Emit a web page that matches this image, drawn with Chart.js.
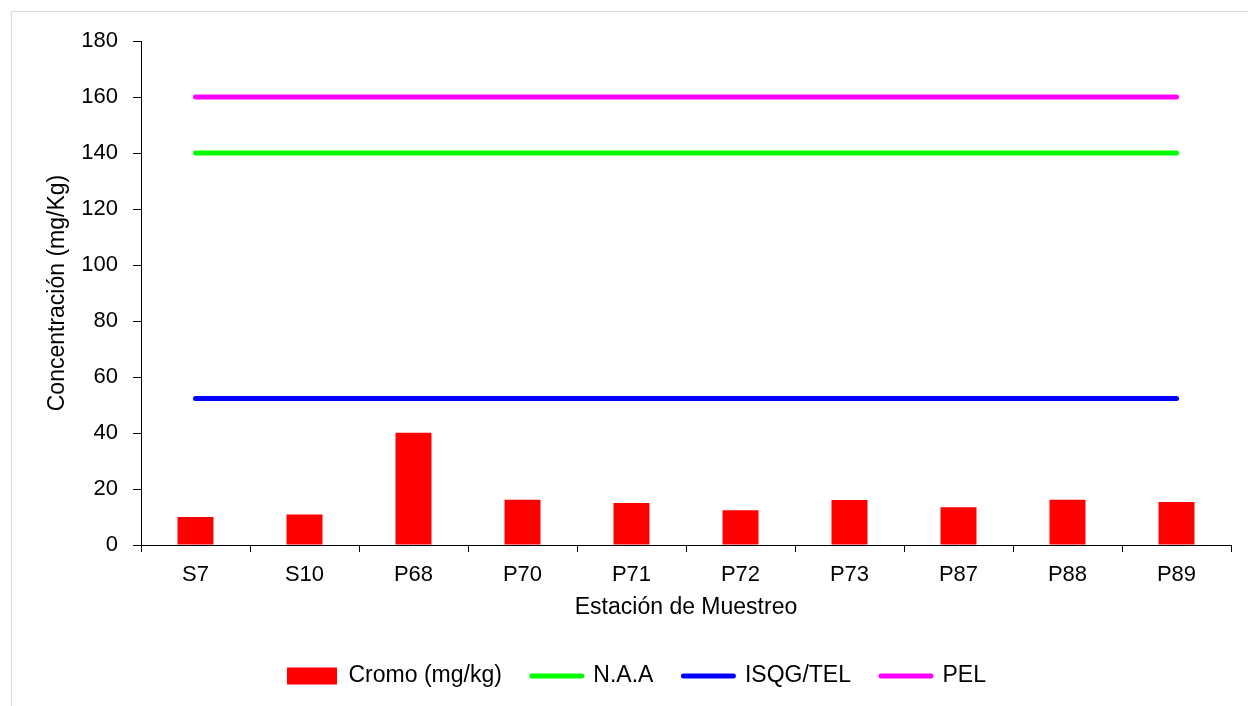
<!DOCTYPE html>
<html>
<head>
<meta charset="utf-8">
<script src="https://cdn.jsdelivr.net/npm/chart.js@4/dist/chart.umd.min.js"></script>
<style>
  html, body { margin: 0; padding: 0; background: #fff; overflow: hidden; }
  #frame { position: absolute; left: 11px; top: 11px; width: 1400px; height: 900px;
           border: 1px solid #d9d9d9; box-sizing: border-box; }
  #wrap { position: absolute; left: 0; top: 0; width: 1248px; height: 706px; }
</style>
</head>
<body>
<div id="frame"></div>
<div id="wrap"><canvas id="c" width="1248" height="706"></canvas></div>
<script>
// Sampling stations along the x axis
const estaciones = ['S7', 'S10', 'P68', 'P70', 'P71', 'P72', 'P73', 'P87', 'P88', 'P89'];

// Chromium concentration per station (mg/kg)
const cromo = [10.0, 10.9, 40.1, 16.2, 15.0, 12.4, 16.1, 13.5, 16.2, 15.4];

// Reference guideline levels (mg/kg)
const naa     = [140, 140, 140, 140, 140, 140, 140, 140, 140, 140];
const isqgTel = [52.3, 52.3, 52.3, 52.3, 52.3, 52.3, 52.3, 52.3, 52.3, 52.3];
const pel     = [160, 160, 160, 160, 160, 160, 160, 160, 160, 160];

// Y axis range and step
const yMin = 0, yMax = 180, yStep = 20;

const FONT = "'Liberation Sans', Arial, sans-serif";
const LEGEND_PAD = 30;
const LEGEND_START_X = 287;

const lineSet = (label, data, color) => ({
  type: 'line', label, data,
  borderColor: color, backgroundColor: color,
  borderWidth: 5, borderCapStyle: 'round',
  pointRadius: 0, pointHoverRadius: 0, fill: false, tension: 0
});

// Places the legend row so it starts at a fixed x position
const legendOffset = {
  id: 'legendOffset',
  afterLayout(chart) {
    const lg = chart.legend;
    if (lg) lg.left = LEGEND_START_X - LEGEND_PAD;
  }
};

new Chart(document.getElementById('c'), {
  type: 'bar',
  data: {
    labels: estaciones,
    datasets: [
      { type: 'bar', label: 'Cromo (mg/kg)', data: cromo,
        backgroundColor: '#ff0000', borderWidth: 0,
        barPercentage: 0.33, categoryPercentage: 1.0 },
      lineSet('N.A.A', naa, '#00ff00'),
      lineSet('ISQG/TEL', isqgTel, '#0000ff'),
      lineSet('PEL', pel, '#ff00ff')
    ]
  },
  plugins: [legendOffset],
  options: {
    responsive: false,
    animation: false,
    devicePixelRatio: 1,
    layout: { padding: { left: 0, right: 17, top: 41, bottom: 8.5 } },
    plugins: {
      tooltip: { enabled: false },
      legend: {
        position: 'bottom',
        align: 'start',
        labels: {
          font: { family: FONT, size: 23 },
          color: '#000',
          usePointStyle: true,
          pointStyleWidth: 50,
          boxHeight: 17,
          padding: LEGEND_PAD,
          generateLabels(chart) {
            return chart.data.datasets.map((ds, i) => {
              const isLine = ds.type === 'line';
              return {
                text: ds.label,
                datasetIndex: i,
                fillStyle: isLine ? ds.borderColor : ds.backgroundColor,
                strokeStyle: isLine ? ds.borderColor : ds.backgroundColor,
                lineWidth: isLine ? 5 : 0,
                lineCap: 'round',
                pointStyle: isLine ? 'line' : 'rect',
                fontColor: '#000',
                hidden: false
              };
            });
          }
        }
      }
    },
    scales: {
      x: {
        offset: true,
        grid: { display: true, drawOnChartArea: false, drawTicks: true,
                tickLength: 7, color: '#000', offset: true },
        border: { display: true, color: '#000', width: 1 },
        ticks: { color: '#000', font: { family: FONT, size: 22 }, padding: 10,
                 maxRotation: 0, autoSkip: false },
        title: { display: true, text: 'Estación de Muestreo', color: '#000',
                 font: { family: FONT, size: 23 }, padding: { top: 0, bottom: 12.7 } },
        afterFit(scale) { scale.height = 89.5; }
      },
      y: {
        min: yMin, max: yMax,
        grid: { display: true, drawOnChartArea: false, drawTicks: true,
                tickLength: 8, color: '#000' },
        border: { display: true, color: '#000', width: 1 },
        ticks: { stepSize: yStep, color: '#000', font: { family: FONT, size: 22 }, padding: 15 },
        title: { display: true, text: 'Concentración (mg/Kg)', color: '#000',
                 font: { family: FONT, size: 23 }, padding: { top: 44, bottom: 0 } },
        afterFit(scale) { scale.width = 141; }
      }
    }
  }
});
</script>
</body>
</html>
